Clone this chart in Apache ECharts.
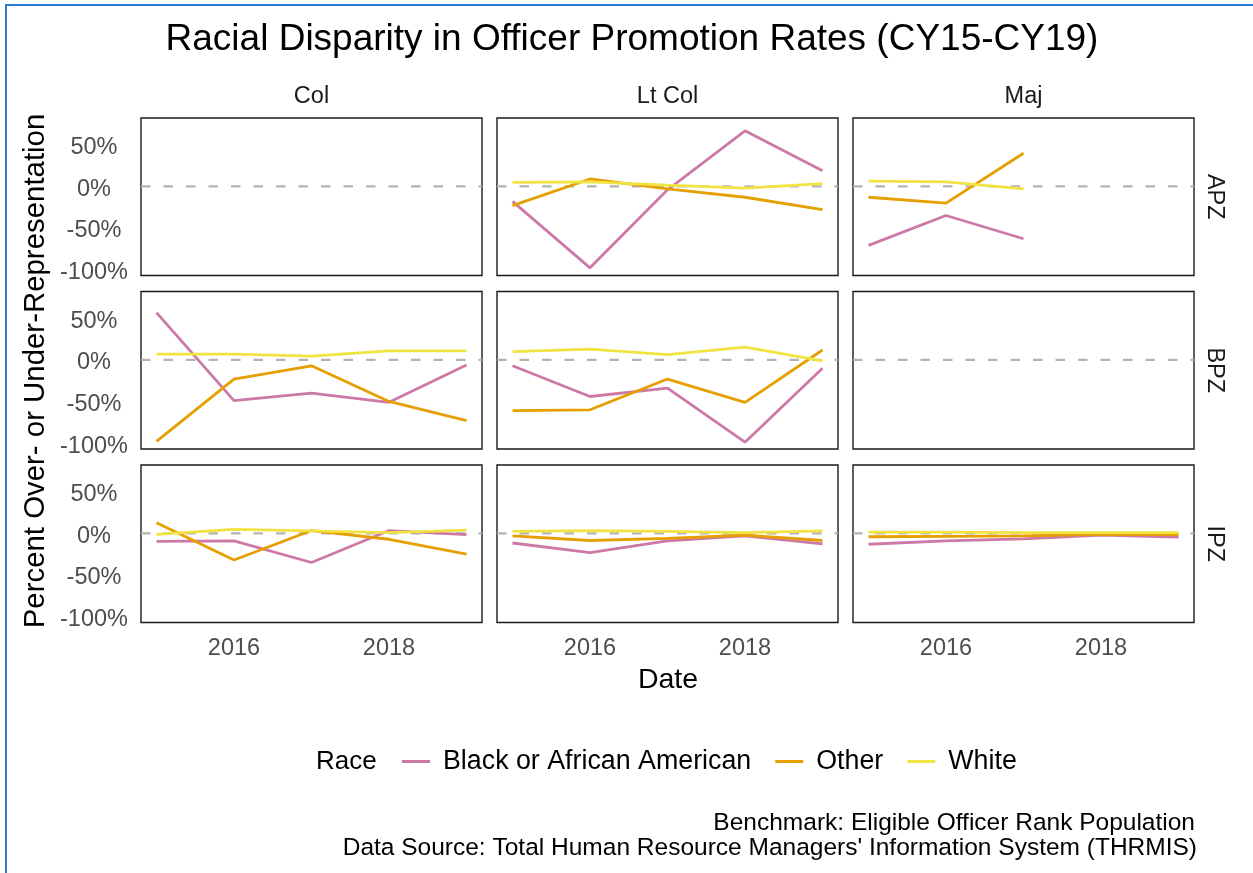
<!DOCTYPE html>
<html>
<head>
<meta charset="utf-8">
<title>Racial Disparity in Officer Promotion Rates (CY15-CY19)</title>
<script src="https://cdn.jsdelivr.net/npm/echarts@6/dist/echarts.min.js"></script>
<style>
  html, body { margin: 0; padding: 0; background: #ffffff; }
  #chart { width: 1253px; height: 873px; }
</style>
</head>
<body>
<div id="chart"></div>
<script>
// Promotion years and facet categories
const years = [2015, 2016, 2017, 2018, 2019];
const ranks = ['Col', 'Lt Col', 'Maj'];
const zones = ['APZ', 'BPZ', 'IPZ'];
const races = ['Black or African American', 'Other', 'White'];
const yTicks = [-100, -50, 0, 50];
const xTicks = [2016, 2018];
const benchmark = 0;

// Percent over- (+) or under- (−) representation, one array per rank / zone / race
// Col, APZ: no data
const colApzBlack = [];
const colApzOther = [];
const colApzWhite = [];
// Lt Col, APZ
const ltcolApzBlack = [-18, -98, -4, 67, 19];
const ltcolApzOther = [-23, 9, -3, -13, -28];
const ltcolApzWhite = [5, 5.5, 1.5, -2, 3.5];
// Maj, APZ (2015–2017 only)
const majApzBlack = [-71, -35, -63, null, null];
const majApzOther = [-13, -20, 40, null, null];
const majApzWhite = [6.5, 5.5, -3, null, null];
// Col, BPZ
const colBpzBlack = [57, -49, -40, -51, -6];
const colBpzOther = [-98, -23, -7, -50, -73];
const colBpzWhite = [7, 7, 4.5, 11, 11];
// Lt Col, BPZ
const ltcolBpzBlack = [-7, -44, -34, -99, -10];
const ltcolBpzOther = [-61, -60, -23, -51, 12];
const ltcolBpzWhite = [10, 13, 6.5, 15.5, -1];
// Maj, BPZ: no data
const majBpzBlack = [];
const majBpzOther = [];
const majBpzWhite = [];
// Col, IPZ
const colIpzBlack = [-9.5, -9, -35, 3.5, -1.5];
const colIpzOther = [13, -32, 3.5, -7, -25];
const colIpzWhite = [-1, 5, 3, 1, 4];
// Lt Col, IPZ
const ltcolIpzBlack = [-11.5, -23, -9, -3, -12.5];
const ltcolIpzOther = [-3, -8.5, -6, -2, -8.5];
const ltcolIpzWhite = [2.5, 3.5, 2.5, 1, 3];
// Maj, IPZ
const majIpzBlack = [-13, -9, -6.5, -2, -4.5];
const majIpzOther = [-4, -3.5, -3, -1, -1.5];
const majIpzWhite = [1.5, 1.5, 1, 1, 1];

// Panels in row-major order (zone rows, rank columns)
const panelData = [
  [colApzBlack, colApzOther, colApzWhite],
  [ltcolApzBlack, ltcolApzOther, ltcolApzWhite],
  [majApzBlack, majApzOther, majApzWhite],
  [colBpzBlack, colBpzOther, colBpzWhite],
  [ltcolBpzBlack, ltcolBpzOther, ltcolBpzWhite],
  [majBpzBlack, majBpzOther, majBpzWhite],
  [colIpzBlack, colIpzOther, colIpzWhite],
  [ltcolIpzBlack, ltcolIpzOther, ltcolIpzWhite],
  [majIpzBlack, majIpzOther, majIpzWhite]
];

const raceColors = ['#CC79A7', '#E69F00', '#F0E442'];
const FONT = '"Liberation Sans", Arial, Helvetica, sans-serif';

// Facet geometry
const panelLeft = [141, 497, 853];
const panelTop = [118, 291.5, 465];
const panelW = 341;
const panelH = 157.5;
const xMin = 2014.8, xMax = 2019.2;
const yMin = -107.2, yMax = 82.4;

const grids = [], xAxes = [], yAxes = [], series = [];

for (let r = 0; r < zones.length; r++) {
  for (let c = 0; c < ranks.length; c++) {
    const idx = r * ranks.length + c;
    grids.push({
      left: panelLeft[c], top: panelTop[r], width: panelW, height: panelH,
      show: true, borderColor: '#1a1a1a', borderWidth: 1.4, backgroundColor: '#ffffff',
      containLabel: false
    });
    xAxes.push({
      type: 'value', gridIndex: idx, min: xMin, max: xMax,
      axisLine: { show: false }, axisTick: { show: false }, splitLine: { show: false },
      axisLabel: {
        show: r === zones.length - 1,
        customValues: xTicks,
        formatter: v => String(v),
        color: '#4d4d4d', fontSize: 23.5, fontFamily: FONT, margin: 14
      }
    });
    yAxes.push({
      type: 'value', gridIndex: idx, min: yMin, max: yMax,
      axisLine: { show: false }, axisTick: { show: false }, splitLine: { show: false },
      axisLabel: {
        show: c === 0,
        customValues: yTicks,
        formatter: v => v + '%',
        align: 'center', margin: 47,
        verticalAlign: 'top', lineHeight: 6,
        color: '#4d4d4d', fontSize: 23.5, fontFamily: FONT
      }
    });

    // dashed benchmark line across the panel
    series.push({
      type: 'line', xAxisIndex: idx, yAxisIndex: idx, silent: true,
      symbol: 'none', z: 1,
      data: [[xMin, benchmark], [xMax, benchmark]],
      lineStyle: { color: '#b3b3b3', width: 2.2, type: [9.5, 13] },
      legendHoverLink: false, tooltip: { show: false }
    });

    races.forEach((race, k) => {
      const vals = panelData[idx][k];
      const pts = [];
      vals.forEach((v, i) => { if (v !== null && v !== undefined) pts.push([years[i], v]); });
      series.push({
        name: race, type: 'line', xAxisIndex: idx, yAxisIndex: idx,
        symbol: 'none', z: 2 + k,
        data: pts,
        lineStyle: { color: raceColors[k], width: 2.8 },
        itemStyle: { color: raceColors[k] }
      });
    });
  }
}

// Text decorations: title, facet strips, axis titles, legend title, caption, frame
const graphics = [];
const txt = (x, y, text, size, opts) => Object.assign({
  type: 'text', x: x, y: y, silent: true,
  style: Object.assign({
    text: text, fontSize: size, fontFamily: FONT, fill: '#000000',
    align: 'center', verticalAlign: 'middle'
  }, (opts && opts.style) || {})
}, (opts && opts.el) || {});

graphics.push(txt(632, 40, 'Racial Disparity in Officer Promotion Rates (CY15-CY19)', 37));
ranks.forEach((rk, c) => graphics.push(txt(panelLeft[c] + panelW / 2, 97, rk, 23.5, { style: { fill: '#1a1a1a' } })));
zones.forEach((z, r) => graphics.push(txt(1214, panelTop[r] + panelH / 2, z, 23.5,
  { style: { fill: '#1a1a1a' }, el: { rotation: -Math.PI / 2 } })));
graphics.push(txt(36, 371, 'Percent Over- or Under-Representation', 29.4, { el: { rotation: Math.PI / 2 } }));
graphics.push(txt(668, 680, 'Date', 28.5));
graphics.push(txt(316, 762, 'Race', 26, { style: { align: 'left' } }));
graphics.push(txt(1195, 823, 'Benchmark: Eligible Officer Rank Population', 24.5, { style: { align: 'right' } }));
graphics.push(txt(1197, 848, "Data Source: Total Human Resource Managers' Information System (THRMIS)", 24.5, { style: { align: 'right' } }));
graphics.push({ type: 'line', silent: true, shape: { x1: 5, y1: 5, x2: 1253, y2: 5 }, style: { stroke: '#2a7bd1', lineWidth: 2 } });
graphics.push({ type: 'line', silent: true, shape: { x1: 6, y1: 5, x2: 6, y2: 873 }, style: { stroke: '#2a7bd1', lineWidth: 2 } });

const chart = echarts.init(document.getElementById('chart'), null, { renderer: 'canvas' });
chart.setOption({
  animation: false,
  backgroundColor: '#ffffff',
  textStyle: { fontFamily: FONT },
  grid: grids,
  xAxis: xAxes,
  yAxis: yAxes,
  series: series,
  legend: {
    data: races,
    left: 402, top: 748, padding: 0,
    icon: 'rect', itemWidth: 28, itemHeight: 3, itemGap: 24,
    selectedMode: false,
    textStyle: { fontSize: 26.8, color: '#000000', fontFamily: FONT, padding: [0, 0, 0, 8] }
  },
  graphic: graphics
});
</script>
</body>
</html>
